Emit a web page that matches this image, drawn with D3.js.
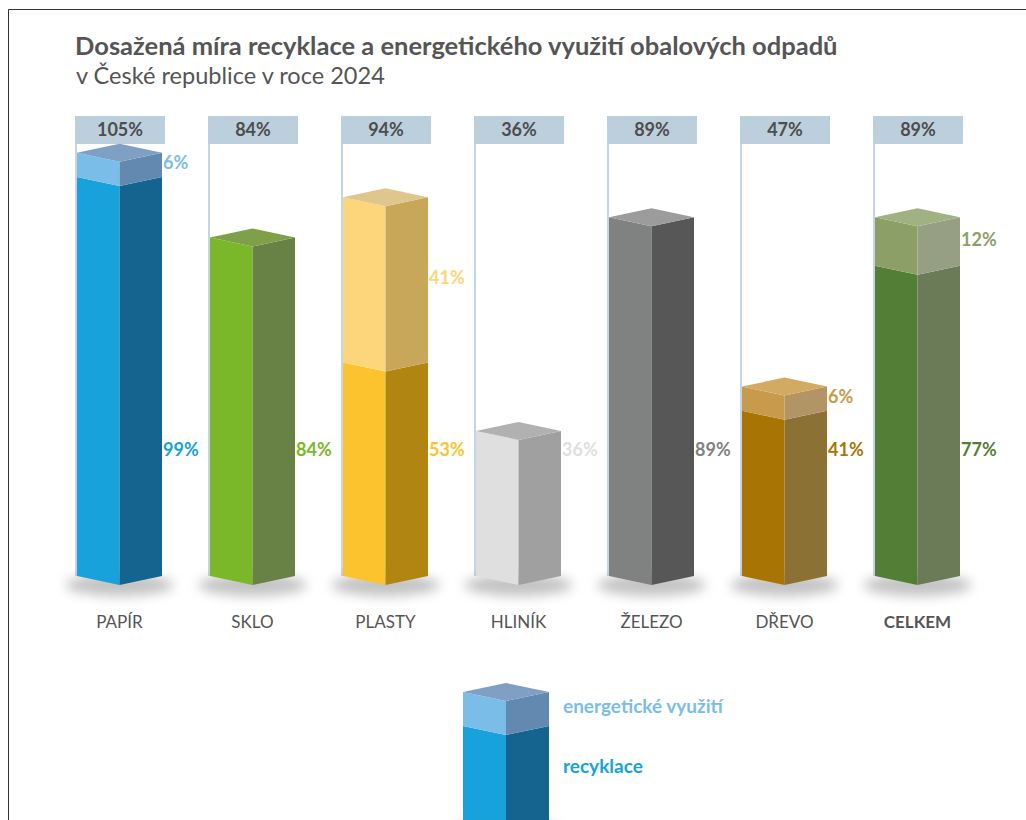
<!DOCTYPE html>
<html>
<head>
<meta charset="utf-8">
<script src="https://cdn.jsdelivr.net/npm/d3@7"></script>
<style>
  body { margin: 0; background: #fff; }
  svg { display: block; }
  text { font-family: Lato, "Open Sans", sans-serif; }
</style>
</head>
<body>
<svg id="chart"></svg>
<script>
// data
const categories = ["PAPÍR", "SKLO", "PLASTY", "HLINÍK", "ŽELEZO", "DŘEVO", "CELKEM"];
const recycling = [99, 84, 53, 36, 89, 41, 77];
const energy = [6, 0, 41, 0, 0, 6, 12];
const legendLabels = ["energetické využití", "recyklace"];
const titleText = "Dosažená míra recyklace a energetického využití obalových odpadů";
const subtitleText = "v České republice v roce 2024";

// colours: recycling front/side, energy front/side, top face
const palette = [
  {rf: "#17a2dc", rs: "#15648f", ef: "#7bbde9", es: "#6389b0", top: "#7f9fc4"},
  {rf: "#7ab82a", rs: "#688246", ef: "#7ab82a", es: "#688246", top: "#7fa048"},
  {rf: "#fdc32f", rs: "#b18512", ef: "#fdd57a", es: "#c8a65a", top: "#dec68c"},
  {rf: "#dfdfdf", rs: "#a0a0a0", ef: "#dfdfdf", es: "#a0a0a0", top: "#b0b1b0"},
  {rf: "#808181", rs: "#575757", ef: "#808181", es: "#575757", top: "#9c9c9c"},
  {rf: "#a87404", rs: "#8c7135", ef: "#c89a4c", es: "#b39464", top: "#d4aa63"},
  {rf: "#537e36", rs: "#6b7b58", ef: "#8c9f67", es: "#969f84", top: "#a0b283"}
];

const W = 1026, H = 820;
const barW = 85, depth = 9, boxW = 90, boxTop = 116, boxH = 28;
const recLabelY = 450;

const svg = d3.select("#chart").attr("width", W).attr("height", H);

const defs = svg.append("defs");
defs.append("filter").attr("id", "blur")
  .attr("x", "-50%").attr("y", "-50%").attr("width", "200%").attr("height", "200%")
  .append("feGaussianBlur").attr("stdDeviation", 6);

// frame
svg.append("path")
  .attr("d", `M8.5,${H} V9.5 H${W}`)
  .attr("fill", "none").attr("stroke", "#333").attr("stroke-width", 1);

// title
const title = svg.append("text").attr("x", 75).attr("y", 55)
  .attr("font-weight", 700).attr("font-size", 22).attr("fill", "#555")
  .text(titleText);
const subtitle = svg.append("text").attr("x", 76).attr("y", 84)
  .attr("font-size", 22).attr("fill", "#555")
  .text(subtitleText);

// fit title widths to the reference
function fitWidth(sel, target) {
  const w = sel.node().getComputedTextLength();
  const fs = +sel.attr("font-size");
  sel.attr("font-size", fs * target / w);
}
fitWidth(title, 763);
fitWidth(subtitle, 309);

const x = d3.scaleBand().domain(categories).range([75, 75 + 133 * categories.length]);
const y = d3.scaleLinear().domain([0, 100]).range([576, 173]);

const rows = categories.map((c, i) => ({
  cat: c, rec: recycling[i], en: energy[i], total: recycling[i] + energy[i], col: palette[i]
}));

function leftFace(xl, v0, v1) {
  const xc = xl + barW / 2;
  return `M${xl},${y(v1)} L${xc},${y(v1) + depth} L${xc},${y(v0) + depth} L${xl},${y(v0)} Z`;
}
function rightFace(xl, v0, v1) {
  const xc = xl + barW / 2, xr = xl + barW;
  return `M${xc},${y(v1) + depth} L${xr},${y(v1)} L${xr},${y(v0)} L${xc},${y(v0) + depth} Z`;
}
function topFace(xl, v) {
  const xc = xl + barW / 2, xr = xl + barW, yy = y(v);
  return `M${xl},${yy} L${xc},${yy - depth} L${xr},${yy} L${xc},${yy + depth} Z`;
}

const g = svg.selectAll("g.cat").data(rows).join("g").attr("class", "cat");

// header boxes with totals
g.append("rect")
  .attr("x", d => x(d.cat)).attr("y", boxTop)
  .attr("width", boxW).attr("height", boxH)
  .attr("fill", "#bccfdc");
g.append("text")
  .attr("x", d => x(d.cat) + boxW / 2).attr("y", boxTop + 20)
  .attr("text-anchor", "middle").attr("font-weight", 700).attr("font-size", 18)
  .attr("fill", "#4d4d4d")
  .text(d => d.total + "%");
// thin guide line from the box down
g.append("line")
  .attr("x1", d => x(d.cat) + 1).attr("x2", d => x(d.cat) + 1)
  .attr("y1", boxTop + boxH).attr("y2", y(0))
  .attr("stroke", "#c5d5e3").attr("stroke-width", 2);

// shadow
g.append("ellipse")
  .attr("cx", d => x(d.cat) + 2 + barW / 2).attr("cy", y(0) + 9)
  .attr("rx", 54).attr("ry", 11)
  .attr("fill", "#888").attr("opacity", 0.5)
  .attr("filter", "url(#blur)");

// bars
g.each(function(d) {
  const el = d3.select(this);
  const xl = x(d.cat) + 2;
  const segs = [{v0: 0, v1: d.rec, f: d.col.rf, s: d.col.rs}];
  if (d.en > 0) segs.push({v0: d.rec, v1: d.total, f: d.col.ef, s: d.col.es});
  segs.forEach(s => {
    el.append("path").attr("d", leftFace(xl, s.v0, s.v1)).attr("fill", s.f);
    el.append("path").attr("d", rightFace(xl, s.v0, s.v1)).attr("fill", s.s);
  });
  el.append("path").attr("d", topFace(xl, d.total)).attr("fill", d.col.top);

  // value labels
  el.append("text")
    .attr("x", xl + barW + 1).attr("y", recLabelY).attr("dy", "0.35em")
    .attr("font-weight", 700).attr("font-size", 18).attr("fill", d.col.rf)
    .text(d.rec + "%");
  if (d.en > 0) {
    el.append("text")
      .attr("x", xl + barW + 1).attr("y", y(d.rec + d.en / 2) - 2).attr("dy", "0.35em")
      .attr("font-weight", 700).attr("font-size", 18).attr("fill", d.col.ef)
      .text(d.en + "%");
  }
});

// category labels
g.append("text")
  .attr("x", d => x(d.cat) + 2 + barW / 2).attr("y", 628)
  .attr("text-anchor", "middle").attr("font-size", 17)
  .attr("font-weight", d => d.cat === "CELKEM" ? 700 : 400)
  .attr("fill", "#555")
  .text(d => d.cat);

// legend
const ly = d3.scaleLinear().domain([0, 1]).range([726, 692]);
const lx = 463, lw = 86, lc = lx + lw / 2;
const legend = svg.append("g");
legend.append("ellipse").attr("cx", lc).attr("cy", 830).attr("rx", 52).attr("ry", 11)
  .attr("fill", "#777").attr("opacity", 0.5).attr("filter", "url(#blur)");
legend.append("path").attr("d", `M${lx},${ly(0)} L${lc},${ly(0) + depth} L${lc},${H} L${lx},${H} Z`).attr("fill", palette[0].rf);
legend.append("path").attr("d", `M${lc},${ly(0) + depth} L${lx + lw},${ly(0)} L${lx + lw},${H} L${lc},${H} Z`).attr("fill", palette[0].rs);
legend.append("path").attr("d", `M${lx},${ly(1)} L${lc},${ly(1) + depth} L${lc},${ly(0) + depth} L${lx},${ly(0)} Z`).attr("fill", palette[0].ef);
legend.append("path").attr("d", `M${lc},${ly(1) + depth} L${lx + lw},${ly(1)} L${lx + lw},${ly(0)} L${lc},${ly(0) + depth} Z`).attr("fill", palette[0].es);
legend.append("path").attr("d", `M${lx},${ly(1)} L${lc},${ly(1) - depth} L${lx + lw},${ly(1)} L${lc},${ly(1) + depth} Z`).attr("fill", palette[0].top);

legend.selectAll("text").data(legendLabels).join("text")
  .attr("x", 563).attr("y", (d, i) => [713, 773][i])
  .attr("font-weight", 700).attr("font-size", 19)
  .attr("fill", (d, i) => i === 0 ? palette[0].ef : palette[0].rf)
  .text(d => d);
</script>
</body>
</html>
